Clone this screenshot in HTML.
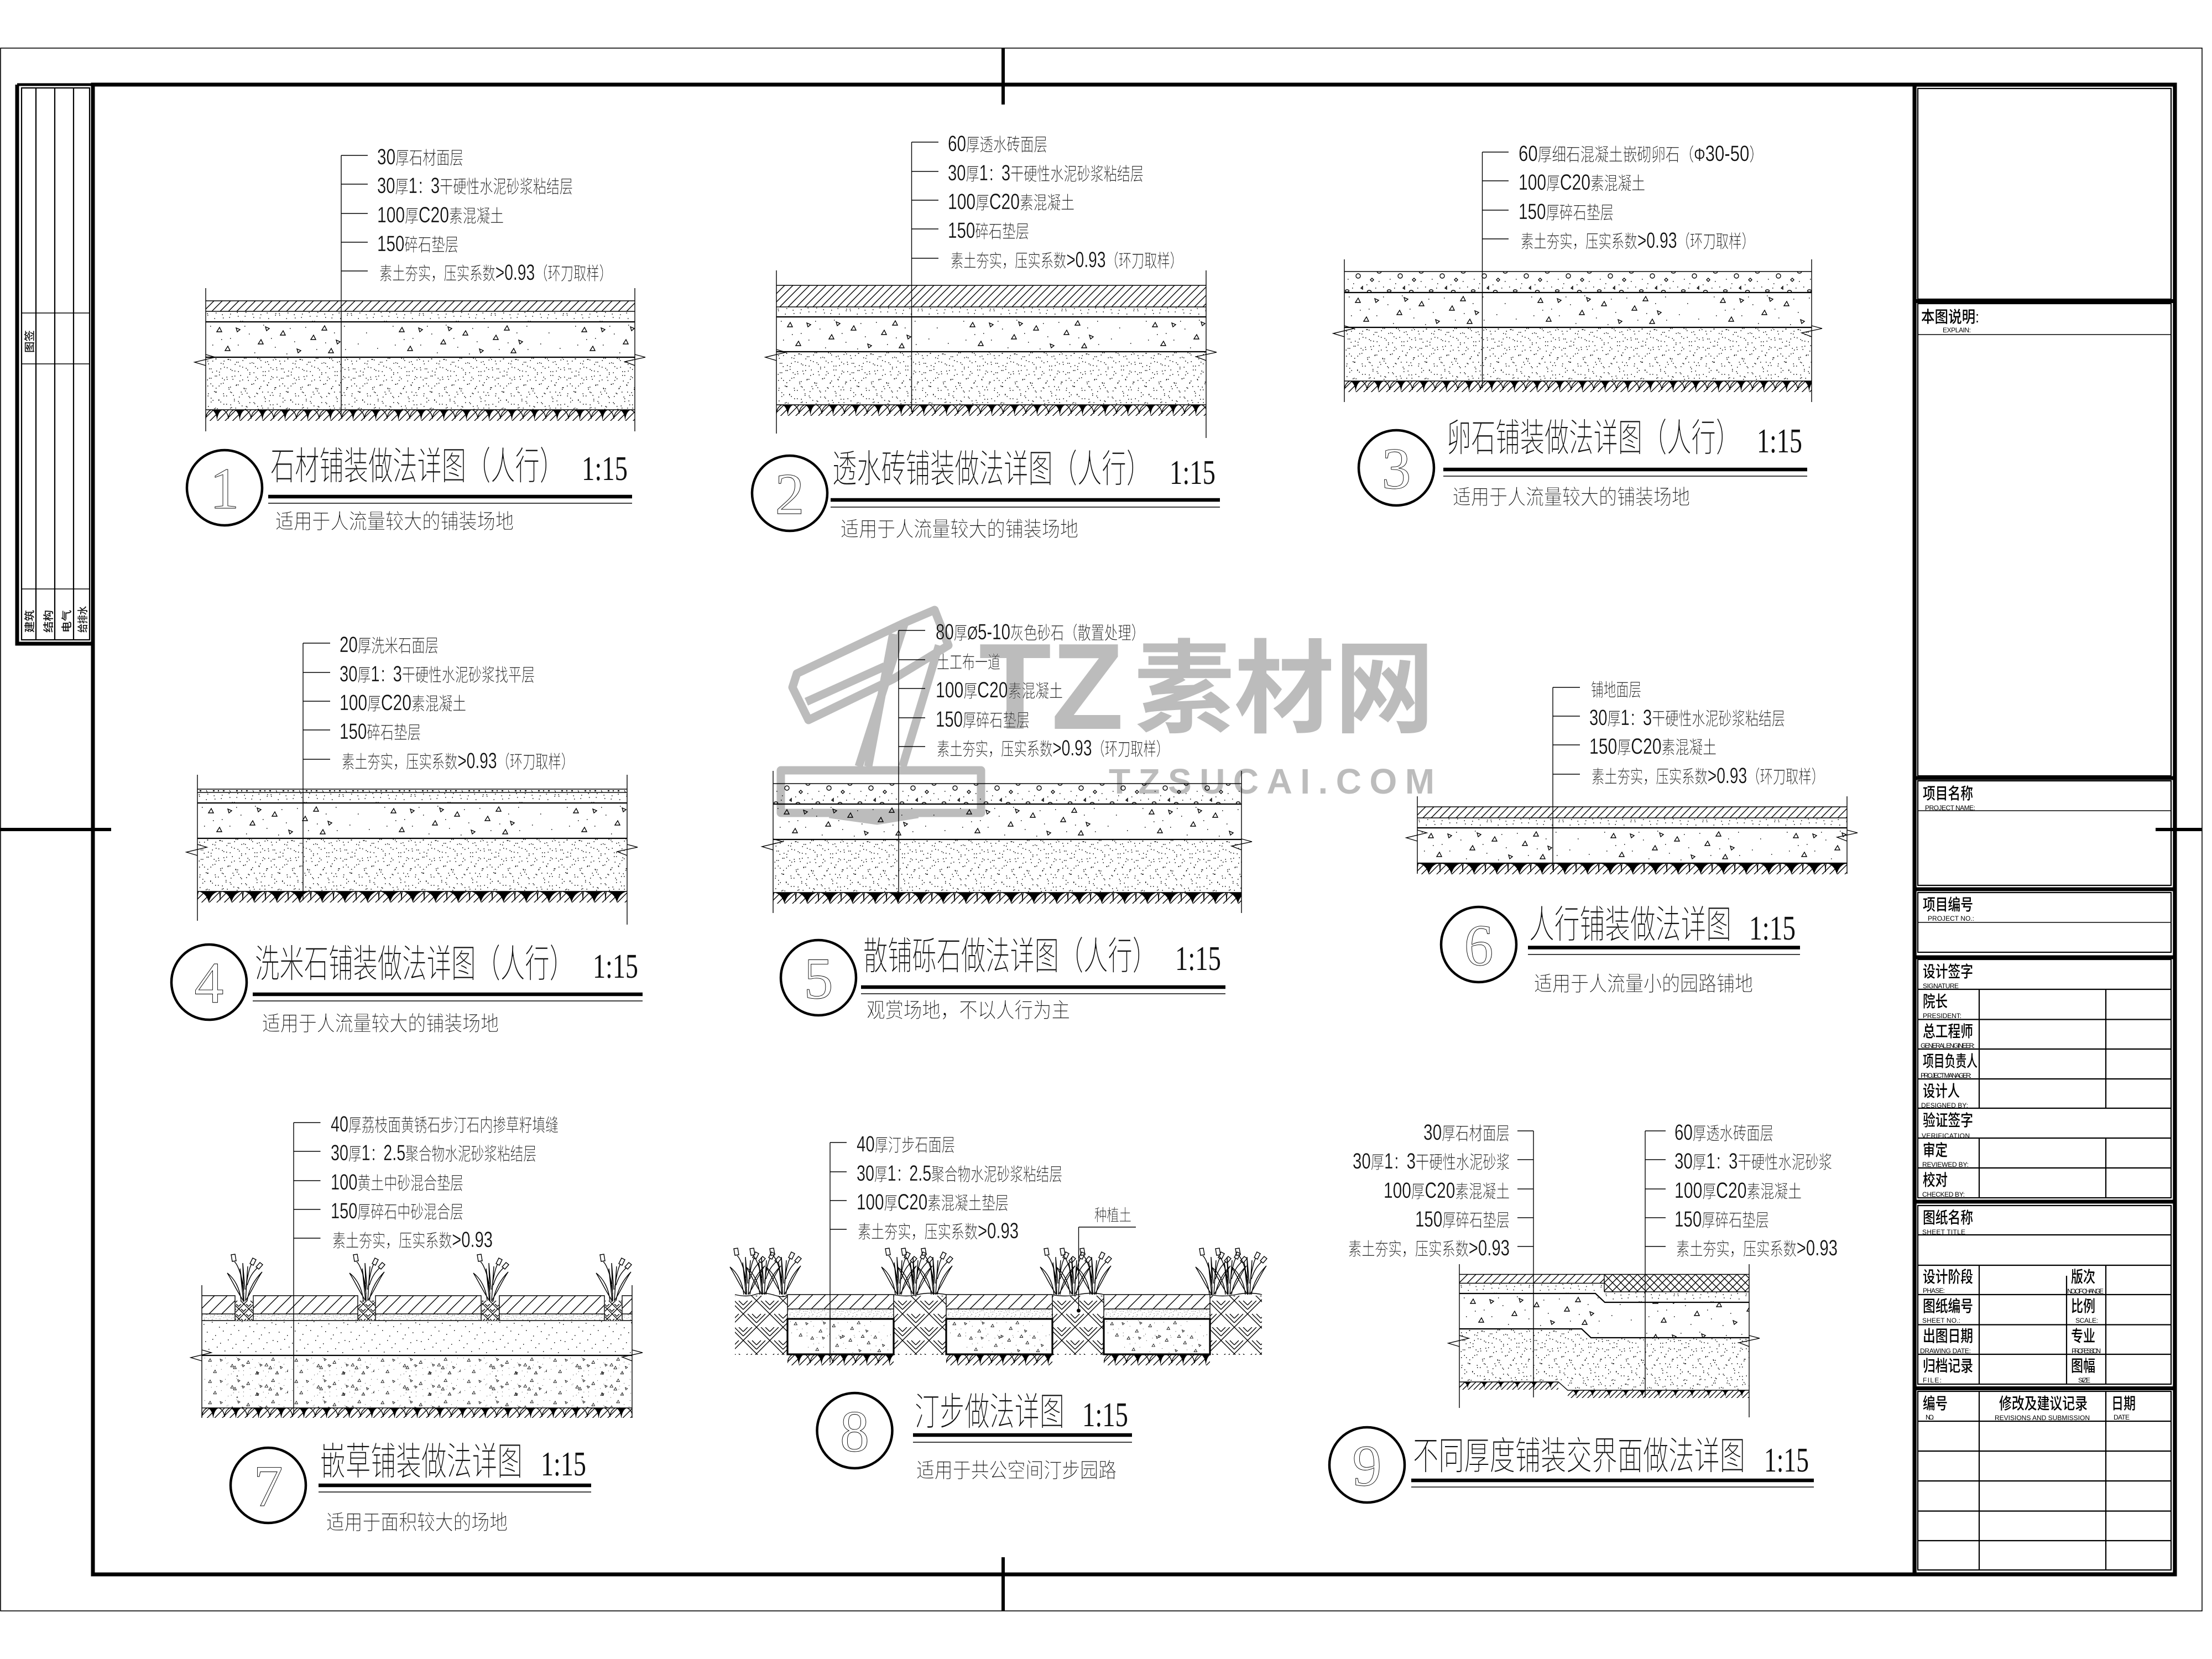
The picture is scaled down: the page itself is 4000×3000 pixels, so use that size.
<!DOCTYPE html>
<html><head><meta charset="utf-8"><style>
html,body{margin:0;padding:0;background:#fff}
svg{display:block}
text{font-family:"Liberation Sans","Noto Sans CJK SC",sans-serif;fill:#111;font-weight:300}
.l{font-size:33px;stroke:#fff;stroke-width:.35px}
.g{font-family:"Liberation Sans Narrow","Liberation Sans",sans-serif;font-size:40px;font-weight:400}
.t{font-size:70px;font-weight:200;stroke:#fff;stroke-width:.9px}
.s{font-size:38px;font-weight:200;stroke:#fff;stroke-width:.55px}
.r{font-family:"Liberation Serif",serif;font-size:62px;font-weight:400}
.n{font-family:"Liberation Serif",serif;font-size:106px;fill:none;stroke:#000;stroke-width:.9;text-anchor:middle}
.c{font-size:29px;font-weight:500;fill:#000}
.e{font-size:12px;font-weight:400;fill:#000}
.w{fill:#bcbcbc;font-weight:700}
.tn{fill:none;stroke:#000;stroke-width:1.4}
.md{fill:none;stroke:#000;stroke-width:2.2}
.th{fill:none;stroke:#000;stroke-width:3.2}
.ci{fill:none;stroke:#000;stroke-width:4.5}
</style></head><body>
<svg xmlns="http://www.w3.org/2000/svg" width="4000" height="3000" viewBox="0 0 4000 3000">
<defs>
<path id="d" fill="none" stroke="#000" stroke-width="1.5" d="M3 7h1.5M18 3h1.5M31 12h1.5M44 5h1.5M58 9h1.5M72 2h1.5M86 11h1.5M99 6h1.5M113 13h1.5M126 4h1.5M9 21h1.5M24 27h1.5M38 19h1.5M52 25h1.5M66 18h1.5M79 28h1.5M93 20h1.5M107 26h1.5M121 22h1.5M6 38h1.5M19 34h1.5M33 41h1.5M47 35h1.5M61 43h1.5M75 36h1.5M89 42h1.5M103 33h1.5M117 40h1.5M128 36h1.5M12 52h1.5M27 48h1.5M41 55h1.5M55 50h1.5M69 57h1.5M83 49h1.5M97 56h1.5M111 51h1.5M124 58h1.5M4 66h1.5M17 63h1.5M32 70h1.5M46 64h1.5M60 72h1.5M74 65h1.5M88 71h1.5M102 63h1.5M116 69h1.5M9 81h1.5M23 78h1.5M37 85h1.5M51 79h1.5M65 88h1.5M79 82h1.5M93 89h1.5M107 80h1.5M121 86h1.5M15 93h1.5M44 92h1.5M71 94h1.5M112 92h1.5"/>
<pattern id="h" width="15" height="15" patternUnits="userSpaceOnUse"><path d="M-2 17L17 -2M-2 2L2 -2M13 17L17 13" class="tn" stroke-width="1.2"/></pattern>
<pattern id="h2" width="23" height="23" patternUnits="userSpaceOnUse"><path d="M-2 25L25 -2M-2 2L2 -2M21 25L25 21" class="tn"/></pattern>
<pattern id="x" width="15" height="15" patternUnits="userSpaceOnUse"><path d="M-2 17L17 -2M-2 -2L17 17M-2 2L2 -2M13 17L17 13M13 -2L17 2M-2 13L2 17" class="tn" stroke-width="1.1"/></pattern>
<pattern id="s" width="130" height="38" patternUnits="userSpaceOnUse"><use href="#d"/><use href="#d" transform="translate(130,0) scale(-1,1)"/></pattern>
<pattern id="g" width="130" height="96" patternUnits="userSpaceOnUse"><use href="#d"/><use href="#d" transform="translate(37,0) scale(-1,1)"/><use href="#d" transform="translate(167,0) scale(-1,1)"/><use href="#d" transform="translate(0,59) scale(1,-1)"/><use href="#d" transform="translate(0,155) scale(1,-1)"/></pattern>
<pattern id="s2" width="130" height="96" patternUnits="userSpaceOnUse"><use href="#d"/></pattern>
<pattern id="ds" width="65" height="48" patternUnits="userSpaceOnUse"><g transform="scale(.5)"><use href="#d"/><use href="#d" transform="translate(130,0) scale(-1,1)"/><use href="#d" transform="translate(0,96) scale(1,-1)"/></g></pattern>
<g id="tr"><path fill="none" stroke="#000" stroke-width="1.4" d="M20 18l5-8 4 8zM62 14l-7-3 2 7zM95 40l5-8 4 8zM135 24l5-8 4 8zM172 52l-7-3 2 7zM210 15l5-8 4 8zM243 36l-7-3 2 7zM35 52l5-8 4 8zM115 12l-7-3 2 7zM190 32l5-8 4 8zM222 56l5-8 4 8z"/><path fill="none" stroke="#000" stroke-width="1.4" d="M8 8h1.5M44 30h1.5M78 22h1.5M88 56h1.5M125 46h1.5M152 12h1.5M160 36h1.5M200 50h1.5M232 20h1.5M252 50h1.5M12 42h1.5M58 42h1.5M104 6h1.5M146 58h1.5M180 10h1.5M70 8h1.5M28 32h1.5M118 30h1.5M216 38h1.5M250 8h1.5M290 20h1.5M310 48h1.5M275 40h1.5"/></g>
<pattern id="c" width="330" height="64" patternUnits="userSpaceOnUse"><use href="#tr"/></pattern>
<pattern id="c2" width="156" height="38.4" patternUnits="userSpaceOnUse"><g transform="scale(.6)"><use href="#tr"/></g><g transform="translate(40,10) scale(.6)"><use href="#tr"/></g></pattern>
<pattern id="c3" width="192" height="64" patternUnits="userSpaceOnUse"><g transform="scale(.6)"><use href="#tr"/></g><g transform="translate(30,26) scale(.6)"><use href="#tr"/></g></pattern>
<pattern id="p" width="76" height="37" patternUnits="userSpaceOnUse"><circle cx="25" cy="8" r="4" class="tn"/><ellipse cx="63" cy="1" rx="3.5" ry="2" class="tn"/><ellipse cx="5" cy="35" rx="3.5" ry="2" class="tn"/><ellipse cx="45" cy="36" rx="3.5" ry="2" class="tn"/><path d="M50 12l3 3-3 3-3-3zM30 30l3-3v5zM6 14h1.5M16 22h1.5M40 24h1.5M62 18h1.5M70 28h1.5M14 30h1.5M56 30h1.5" class="tn"/></pattern>
<pattern id="ri" width="42" height="7" patternUnits="userSpaceOnUse"><path d="M4 3h3M16 3h1M17 5h1M28 3h3M37 3h2" class="md"/></pattern>
<pattern id="so" width="41" height="21" patternUnits="userSpaceOnUse"><path class="tn" d="M-7 21L14 0M6.7 21L27.7 0M20.3 21L41.3 0M34 21L55 0M-20.7 21L0.3 0"/><path d="M10 0Q19 3 20.5 20Q22 3 31 0Z" fill="#000"/><path class="tn" d="M31 0Q40 4 41 16M10 0Q1 4 0 16"/></pattern>
<pattern id="so2" width="41" height="21" patternUnits="userSpaceOnUse"><path class="tn" d="M-7 21L14 0M6.7 21L27.7 0M20.3 21L41.3 0M34 21L55 0M-20.7 21L0.3 0"/><path d="M2 0H39Q25 3 20.5 20Q16 3 2 0Z" fill="#000"/><path class="tn" d="M39 0Q41 3 41 16M2 0Q0 3 0 16"/></pattern>
<pattern id="so3" width="30" height="15" patternUnits="userSpaceOnUse"><path class="tn" d="M-5 15L10 0M5 15L20 0M15 15L30 0M25 15L40 0"/><path d="M7 0Q14 2 15 12Q16 2 23 0Z" fill="#000"/></pattern>
<pattern id="wv" width="48" height="48" patternUnits="userSpaceOnUse"><path class="tn" stroke-width="1.2" d="M0 8L8 0M0 16L16 0M0 24L24 0M24 32L32 24M24 40L40 24M24 48L48 24M24 0L48 24M32 0L48 16M40 0L48 8M0 24L24 48M8 24L24 40M16 24L24 32"/></pattern>
<pattern id="wv2" width="18" height="18" patternUnits="userSpaceOnUse"><path class="tn" stroke-width="1.1" d="M0 4L4 0M0 9L9 0M9 13L13 9M9 18L18 9M9 0L18 9M13 0L18 5M0 9L9 18M4 9L9 14"/></pattern>
<g id="bl" class="tn"><path class="tn" d="M0 -5L17 0L-20 9L0 15"/></g>
<g id="br"><path class="tn" d="M0 -5L19 0L-18 8L0 15"/></g>
<g id="pl"><path class="tn" d="M-6 0C-8 -22 -18 -40 -31 -50C-21 -34 -14 -18 -2 0M5 0C8 -22 20 -40 32 -52C22 -38 14 -18 2 0M-2 0L-8 -58M-8 -58L-1 -12M-1 0L-3 -68L1 -20M2 0L6 -62L3 -20M-3 -30C-6 -50 -14 -68 -18 -70M3 -25C6 -48 10 -62 13 -66M5 -28C10 -46 18 -54 24 -60"/><path class="tn" d="M-22 -71l7 -1 -2 -12 -7 1zM10 -67l6 3 5 -10 -6 -3zM21 -61l5 4 7 -8 -5 -4z"/></g>
</defs>
<rect width="4000" height="3000" fill="#fff"/>

<!-- watermark -->
<g fill="none" stroke="#bcbcbc" stroke-width="15" stroke-linejoin="round">
<polygon points="1433,1243 1462,1302 1615,1228 1715,1167 1690,1103 1636,1126 1441,1218"/>
<path d="M1458 1269L1600 1205"/>
<path d="M1636 1126L1553 1386M1698 1167L1632 1386M1615 1146L1570 1386"/>
<polygon points="1412,1393 1774,1393 1774,1470 1412,1470"/>
<path d="M1500 1472L1586 1484L1660 1472"/>
</g>
<text class="w" x="1770" y="1318" font-size="222" textLength="262" lengthAdjust="spacingAndGlyphs" style="font-size:222px">TZ</text>
<text class="w" x="2051" y="1310" textLength="543" lengthAdjust="spacingAndGlyphs" style="font-size:184px">素材网</text>
<text class="w" x="2005" y="1435" textLength="589" lengthAdjust="spacing" style="font-size:64px">TZSUCAI.COM</text>

<!-- frames -->
<rect x="1" y="87" width="3981" height="2826" fill="none" stroke="#000" stroke-width="1.6"/>
<rect x="168" y="153" width="3765" height="2694" fill="none" stroke="#000" stroke-width="7"/>
<path d="M1814 87V189M1814 2816V2913M0 1500H201M3898 1500H3982" fill="none" stroke="#000" stroke-width="6"/>
<path d="M31 153V1164H168" fill="none" stroke="#000" stroke-width="7"/><path d="M31 153H168" fill="none" stroke="#000" stroke-width="5"/>
<rect x="39" y="159" width="123" height="998" class="md"/>
<path d="M65 159V1157M99 159V1157M133 159V1157" class="md"/><path d="M39 566H162M39 658H162M39 1065H162" class="tn"/>
<g style="font-weight:500">
<text transform="translate(60,638) rotate(-90)" textLength="41" lengthAdjust="spacingAndGlyphs" style="font-size:19px;font-weight:500">图签</text>
<text transform="translate(60,1144) rotate(-90)" textLength="41" lengthAdjust="spacingAndGlyphs" style="font-size:19px;font-weight:500">建筑</text>
<text transform="translate(94,1144) rotate(-90)" textLength="41" lengthAdjust="spacingAndGlyphs" style="font-size:19px;font-weight:500">结构</text>
<text transform="translate(127,1144) rotate(-90)" textLength="41" lengthAdjust="spacingAndGlyphs" style="font-size:19px;font-weight:500">电气</text>
<text transform="translate(156,1144) rotate(-90)" textLength="48" lengthAdjust="spacingAndGlyphs" style="font-size:19px;font-weight:500">给排水</text>
</g>

<!-- title block -->
<path d="M3462 153V2847" fill="none" stroke="#000" stroke-width="7"/>
<rect x="3465" y="156" width="465" height="2688" fill="none" stroke="#000" stroke-width="1.4"/>
<path d="M3465 544.5H3930M3465 1407H3930M3465 1608H3930M3465 1731H3930M3465 2173H3930M3465 2510.5H3930" stroke="#000" stroke-width="7" fill="none"/>
<g class="md">
<rect x="3468" y="160" width="458" height="381"/>
<rect x="3468" y="549" width="458" height="854"/>
<rect x="3468" y="1412" width="458" height="189"/>
<rect x="3468" y="1614" width="458" height="108"/>
<rect x="3468" y="1735" width="458" height="431"/>
<rect x="3468" y="2180" width="458" height="323"/>
<rect x="3468" y="2516" width="458" height="323"/>
</g>
<path class="tn" d="M3468 605H3926M3468 1466H3926M3468 1668H3926"/>
<path class="md" stroke-width="1.8" d="M3468 1789H3926M3468 1843.5H3926M3468 1897H3926M3468 1951H3926M3468 2004H3926M3468 2058H3926M3468 2112H3926M3579 1789V2004M3808 1789V2004M3579 2058V2166M3808 2058V2166M3468 2233H3926M3468 2288H3926M3468 2341H3926M3468 2395.5H3926M3468 2449H3926M3579 2288V2503M3808 2288V2503M3737 2307V2503M3468 2570H3926M3468 2624H3926M3468 2678H3926M3468 2732.5H3926M3468 2786H3926M3579 2516V2839M3808 2516V2839"/>

<text class="c" x="3474" y="583" textLength="105" lengthAdjust="spacingAndGlyphs">本图说明:</text>
<text class="e" x="3513" y="601" textLength="51" lengthAdjust="spacing">EXPLAIN:</text>
<text class="c" x="3477" y="1445" textLength="91" lengthAdjust="spacingAndGlyphs">项目名称</text>
<text class="e" x="3481" y="1465" textLength="91" lengthAdjust="spacing">PROJECT NAME:</text>
<text class="c" x="3477" y="1646" textLength="91" lengthAdjust="spacingAndGlyphs">项目编号</text>
<text class="e" x="3486" y="1665" textLength="84" lengthAdjust="spacing">PROJECT NO.:</text>

<text class="c" x="3477" y="1767" textLength="91" lengthAdjust="spacingAndGlyphs">设计签字</text>
<text class="e" x="3477" y="1787" textLength="65" lengthAdjust="spacing">SIGNATURE</text>
<text class="c" x="3477" y="1821" textLength="45" lengthAdjust="spacingAndGlyphs">院长</text>
<text class="e" x="3477" y="1841" textLength="70" lengthAdjust="spacing">PRESIDENT:</text>
<text class="c" x="3477" y="1875" textLength="91" lengthAdjust="spacingAndGlyphs">总工程师</text>
<text class="e" x="3473" y="1895" textLength="98" lengthAdjust="spacing">GENERAL ENGINEER:</text>
<text class="c" x="3477" y="1929" textLength="99" lengthAdjust="spacingAndGlyphs">项目负责人</text>
<text class="e" x="3473" y="1949" textLength="92" lengthAdjust="spacing">PROJECT MANAGER:</text>
<text class="c" x="3477" y="1983" textLength="67" lengthAdjust="spacingAndGlyphs">设计人</text>
<text class="e" x="3474" y="2003" textLength="85" lengthAdjust="spacing">DESIGNED BY:</text>
<text class="c" x="3477" y="2036" textLength="91" lengthAdjust="spacingAndGlyphs">验证签字</text>
<text class="e" x="3475" y="2058" textLength="87" lengthAdjust="spacing">VERIFICATION</text>
<text class="c" x="3477" y="2090" textLength="45" lengthAdjust="spacingAndGlyphs">审定</text>
<text class="e" x="3476" y="2110" textLength="84" lengthAdjust="spacing">REVIEWED BY:</text>
<text class="c" x="3477" y="2144" textLength="45" lengthAdjust="spacingAndGlyphs">校对</text>
<text class="e" x="3476" y="2164" textLength="77" lengthAdjust="spacing">CHECKED BY:</text>

<text class="c" x="3477" y="2212" textLength="91" lengthAdjust="spacingAndGlyphs">图纸名称</text>
<text class="e" x="3476" y="2232" textLength="78" lengthAdjust="spacing">SHEET TITLE</text>
<text class="c" x="3477" y="2319" textLength="91" lengthAdjust="spacingAndGlyphs">设计阶段</text>
<text class="e" x="3477" y="2338" textLength="40" lengthAdjust="spacing">PHASE:</text>
<text class="c" x="3477" y="2372" textLength="91" lengthAdjust="spacingAndGlyphs">图纸编号</text>
<text class="e" x="3476" y="2392" textLength="69" lengthAdjust="spacing">SHEET NO.:</text>
<text class="c" x="3477" y="2426" textLength="91" lengthAdjust="spacingAndGlyphs">出图日期</text>
<text class="e" x="3472" y="2447" textLength="92" lengthAdjust="spacing">DRAWING DATE:</text>
<text class="c" x="3477" y="2480" textLength="91" lengthAdjust="spacingAndGlyphs">归档记录</text>
<text class="e" x="3477" y="2500" textLength="34" lengthAdjust="spacing">FILE:</text>
<text class="c" x="3745" y="2319" textLength="44" lengthAdjust="spacingAndGlyphs">版次</text>
<text class="e" x="3738" y="2339" textLength="66" lengthAdjust="spacing">NO.OF CHANGE</text>
<text class="c" x="3745" y="2372" textLength="44" lengthAdjust="spacingAndGlyphs">比例</text>
<text class="e" x="3753" y="2392" textLength="41" lengthAdjust="spacing">SCALE:</text>
<text class="c" x="3745" y="2426" textLength="44" lengthAdjust="spacingAndGlyphs">专业</text>
<text class="e" x="3746" y="2447" textLength="53" lengthAdjust="spacing">PROFESSION</text>
<text class="c" x="3745" y="2480" textLength="44" lengthAdjust="spacingAndGlyphs">图幅</text>
<text class="e" x="3758" y="2500" textLength="22" lengthAdjust="spacing">SIZE</text>
<text class="c" x="3477" y="2548" textLength="45" lengthAdjust="spacingAndGlyphs">编号</text>
<text class="e" x="3482" y="2567" textLength="15" lengthAdjust="spacing">NO.</text>
<text class="c" x="3615" y="2548" textLength="160" lengthAdjust="spacingAndGlyphs">修改及建议记录</text>
<text class="e" x="3607" y="2568" textLength="172" lengthAdjust="spacing">REVISIONS AND SUBMISSION</text>
<text class="c" x="3818" y="2548" textLength="44" lengthAdjust="spacingAndGlyphs">日期</text>
<text class="e" x="3822" y="2567" textLength="29" lengthAdjust="spacing">DATE</text>

<!-- DETAIL 1 -->
<g>
<rect transform="translate(372,544)" width="776" height="19" fill="url(#h)"/>
<rect transform="translate(372,563)" width="776" height="19" fill="url(#s)"/>
<rect transform="translate(372,582)" width="776" height="64" fill="url(#c)"/>
<rect transform="translate(372,646)" width="776" height="95" fill="url(#g)"/>
<rect transform="translate(372,741)" width="776" height="20" fill="url(#so)"/>
<path class="tn" d="M372 521V780M1148 521V780M372 544H1148M372 563H1148M372 741H1148M617 281V753M617 281H665M617 333H665M617 386H665M617 438H665M617 490H665"/>
<path class="md" d="M372 582H1148M372 646H1148"/>
<use href="#bl" x="372" y="646"/><use href="#br" x="1148" y="646"/>
<text class="l" x="682" y="297" textLength="156" lengthAdjust="spacingAndGlyphs"><tspan class="g">30</tspan>厚石材面层</text>
<text class="l" x="682" y="349" textLength="354" lengthAdjust="spacingAndGlyphs"><tspan class="g">30</tspan>厚<tspan class="g">1</tspan>：<tspan class="g">3</tspan>干硬性水泥砂浆粘结层</text>
<text class="l" x="682" y="402" textLength="229" lengthAdjust="spacingAndGlyphs"><tspan class="g">100</tspan>厚<tspan class="g">C20</tspan>素混凝土</text>
<text class="l" x="682" y="454" textLength="147" lengthAdjust="spacingAndGlyphs"><tspan class="g">150</tspan>碎石垫层</text>
<text class="l" x="686" y="506" textLength="421" lengthAdjust="spacingAndGlyphs">素土夯实，压实系数<tspan class="g">&gt;0.93</tspan>（环刀取样）</text>
<circle cx="406" cy="882" r="68" class="ci"/><text class="n" x="406" y="919">1</text>
<text class="t" x="489" y="867" textLength="531" lengthAdjust="spacingAndGlyphs">石材铺装做法详图（人行）</text>
<text class="r" x="1052" y="868" textLength="83" lengthAdjust="spacingAndGlyphs">1:15</text>
<path d="M485 898H1143" stroke="#000" stroke-width="6.5"/><path class="tn" d="M485 910H1143"/>
<text class="s" x="498" y="956" textLength="431" lengthAdjust="spacingAndGlyphs">适用于人流量较大的铺装场地</text>
</g>

<!-- DETAIL 2 -->
<g>
<rect transform="translate(1404,516)" width="777" height="39" fill="url(#h)"/>
<rect transform="translate(1404,555)" width="777" height="18" fill="url(#s)"/>
<rect transform="translate(1404,573)" width="777" height="63" fill="url(#c)"/>
<rect transform="translate(1404,636)" width="777" height="96" fill="url(#g)"/>
<rect transform="translate(1404,732)" width="777" height="20" fill="url(#so)"/>
<path class="tn" d="M1404 489V784M2181 489V792M1404 516H2181M1404 555H2181M1404 732H2181M1648.5 257V745M1648.5 257H1697M1648.5 310H1697M1648.5 362H1697M1648.5 414H1697M1648.5 467H1697"/>
<path class="md" d="M1404 573H2181M1404 636H2181"/>
<use href="#bl" x="1404" y="637"/><use href="#br" x="2181" y="637"/>
<text class="l" x="1714" y="273" textLength="180" lengthAdjust="spacingAndGlyphs"><tspan class="g">60</tspan>厚透水砖面层</text>
<text class="l" x="1714" y="326" textLength="354" lengthAdjust="spacingAndGlyphs"><tspan class="g">30</tspan>厚<tspan class="g">1</tspan>：<tspan class="g">3</tspan>干硬性水泥砂浆粘结层</text>
<text class="l" x="1714" y="378" textLength="229" lengthAdjust="spacingAndGlyphs"><tspan class="g">100</tspan>厚<tspan class="g">C20</tspan>素混凝土</text>
<text class="l" x="1714" y="430" textLength="147" lengthAdjust="spacingAndGlyphs"><tspan class="g">150</tspan>碎石垫层</text>
<text class="l" x="1719" y="483" textLength="420" lengthAdjust="spacingAndGlyphs">素土夯实，压实系数<tspan class="g">&gt;0.93</tspan>（环刀取样）</text>
<circle cx="1428" cy="892" r="68" class="ci"/><text class="n" x="1428" y="929">2</text>
<text class="t" x="1505" y="872" textLength="576" lengthAdjust="spacingAndGlyphs">透水砖铺装做法详图（人行）</text>
<text class="r" x="2115" y="875" textLength="83" lengthAdjust="spacingAndGlyphs">1:15</text>
<path d="M1502 904H2206" stroke="#000" stroke-width="6.5"/><path class="tn" d="M1502 917H2206"/>
<text class="s" x="1520" y="970" textLength="430" lengthAdjust="spacingAndGlyphs">适用于人流量较大的铺装场地</text>
</g>

<!-- DETAIL 3 -->
<g>
<rect transform="translate(2431,491)" width="845" height="38" fill="url(#p)"/>
<rect transform="translate(2431,529)" width="845" height="63" fill="url(#c)"/>
<rect transform="translate(2431,592)" width="845" height="97" fill="url(#g)"/>
<rect transform="translate(2431,689)" width="845" height="20" fill="url(#so)"/>
<path class="tn" d="M2431 469V727M3276 469V727M2431 491H3276M2431 689H3276M2680.5 275V702M2680.5 275H2728M2680.5 327H2728M2680.5 380H2728M2680.5 432H2728"/>
<path class="md" d="M2431 529H3276M2431 592H3276"/>
<use href="#bl" x="2431" y="594"/><use href="#br" x="3276" y="594"/>
<text class="l" x="2746" y="291" textLength="443" lengthAdjust="spacingAndGlyphs"><tspan class="g">60</tspan>厚细石混凝土嵌砌卵石（Φ<tspan class="g">30-50</tspan>）</text>
<text class="l" x="2746" y="343" textLength="229" lengthAdjust="spacingAndGlyphs"><tspan class="g">100</tspan>厚<tspan class="g">C20</tspan>素混凝土</text>
<text class="l" x="2746" y="396" textLength="172" lengthAdjust="spacingAndGlyphs"><tspan class="g">150</tspan>厚碎石垫层</text>
<text class="l" x="2750" y="448" textLength="423" lengthAdjust="spacingAndGlyphs">素土夯实，压实系数<tspan class="g">&gt;0.93</tspan>（环刀取样）</text>
<circle cx="2525" cy="846" r="68" class="ci"/><text class="n" x="2525" y="883">3</text>
<text class="t" x="2616" y="816" textLength="531" lengthAdjust="spacingAndGlyphs">卵石铺装做法详图（人行）</text>
<text class="r" x="3177" y="818" textLength="82" lengthAdjust="spacingAndGlyphs">1:15</text>
<path d="M2610 849H3268" stroke="#000" stroke-width="6.5"/><path class="tn" d="M2610 861H3268"/>
<text class="s" x="2627" y="912" textLength="429" lengthAdjust="spacingAndGlyphs">适用于人流量较大的铺装场地</text>
</g>

<!-- DETAIL 4 -->
<g>
<rect transform="translate(357,1427)" width="777" height="6" fill="url(#ri)"/>
<rect transform="translate(357,1433)" width="777" height="19" fill="url(#s)"/>
<rect transform="translate(357,1452)" width="777" height="64" fill="url(#c)"/>
<rect transform="translate(357,1516)" width="777" height="96" fill="url(#g)"/>
<rect transform="translate(357,1612)" width="777" height="20" fill="url(#so2)"/>
<path class="tn" d="M357 1401V1665M1134 1401V1672M357 1427H1134M357 1433H1134M357 1612H1134M548 1163V1628M548 1163H597M548 1216H597M548 1268H597M548 1320H597M548 1373H597"/>
<path class="md" d="M357 1452H1134M357 1516H1134"/>
<use href="#bl" x="357" y="1532"/><use href="#br" x="1134" y="1532"/>
<text class="l" x="614" y="1179" textLength="179" lengthAdjust="spacingAndGlyphs"><tspan class="g">20</tspan>厚洗米石面层</text>
<text class="l" x="614" y="1232" textLength="353" lengthAdjust="spacingAndGlyphs"><tspan class="g">30</tspan>厚<tspan class="g">1</tspan>：<tspan class="g">3</tspan>干硬性水泥砂浆找平层</text>
<text class="l" x="614" y="1284" textLength="229" lengthAdjust="spacingAndGlyphs"><tspan class="g">100</tspan>厚<tspan class="g">C20</tspan>素混凝土</text>
<text class="l" x="614" y="1336" textLength="147" lengthAdjust="spacingAndGlyphs"><tspan class="g">150</tspan>碎石垫层</text>
<text class="l" x="618" y="1389" textLength="420" lengthAdjust="spacingAndGlyphs">素土夯实，压实系数<tspan class="g">&gt;0.93</tspan>（环刀取样）</text>
<circle cx="378" cy="1776" r="68" class="ci"/><text class="n" x="378" y="1813">4</text>
<text class="t" x="461" y="1767" textLength="577" lengthAdjust="spacingAndGlyphs">洗米石铺装做法详图（人行）</text>
<text class="r" x="1072" y="1768" textLength="82" lengthAdjust="spacingAndGlyphs">1:15</text>
<path d="M457 1798H1162" stroke="#000" stroke-width="6.5"/><path class="tn" d="M457 1810H1162"/>
<text class="s" x="474" y="1864" textLength="428" lengthAdjust="spacingAndGlyphs">适用于人流量较大的铺装场地</text>
</g>

<!-- DETAIL 5 -->
<g>
<rect transform="translate(1398,1417)" width="847" height="37" fill="url(#p)"/>
<rect transform="translate(1398,1454)" width="847" height="64" fill="url(#c)"/>
<rect transform="translate(1398,1518)" width="847" height="96" fill="url(#g)"/>
<rect transform="translate(1398,1614)" width="847" height="20" fill="url(#so2)"/>
<path class="tn" d="M1398 1394V1651M2245 1394V1651M1398 1417H2245M1398 1614H2245M1625 1140V1631M1625 1140H1673M1625 1193H1673M1625 1245H1673M1625 1298H1673M1625 1350H1673"/>
<path class="md" d="M1398 1454H2245M1398 1518H2245"/>
<use href="#bl" x="1398" y="1522"/><use href="#br" x="2245" y="1522"/>
<text class="l" x="1692" y="1156" textLength="378" lengthAdjust="spacingAndGlyphs"><tspan class="g">80</tspan>厚Ø<tspan class="g">5-10</tspan>灰色砂石（散置处理）</text>
<text class="l" x="1694" y="1209" textLength="115" lengthAdjust="spacingAndGlyphs">土工布一道</text>
<text class="l" x="1692" y="1261" textLength="230" lengthAdjust="spacingAndGlyphs"><tspan class="g">100</tspan>厚<tspan class="g">C20</tspan>素混凝土</text>
<text class="l" x="1692" y="1314" textLength="170" lengthAdjust="spacingAndGlyphs"><tspan class="g">150</tspan>厚碎石垫层</text>
<text class="l" x="1694" y="1366" textLength="420" lengthAdjust="spacingAndGlyphs">素土夯实，压实系数<tspan class="g">&gt;0.93</tspan>（环刀取样）</text>
<circle cx="1480" cy="1768" r="68" class="ci"/><text class="n" x="1480" y="1805">5</text>
<text class="t" x="1561" y="1753" textLength="531" lengthAdjust="spacingAndGlyphs">散铺砾石做法详图（人行）</text>
<text class="r" x="2125" y="1754" textLength="83" lengthAdjust="spacingAndGlyphs">1:15</text>
<path d="M1557 1785H2216" stroke="#000" stroke-width="6.5"/><path class="tn" d="M1557 1797H2216"/>
<text class="s" x="1567" y="1840" textLength="368" lengthAdjust="spacingAndGlyphs">观赏场地，不以人行为主</text>
</g>

<!-- DETAIL 6 -->
<g>
<rect transform="translate(2563,1459)" width="777" height="20" fill="url(#h)"/>
<rect transform="translate(2563,1479)" width="777" height="18" fill="url(#s)"/>
<rect transform="translate(2563,1497)" width="777" height="64" fill="url(#c)"/>
<rect transform="translate(2563,1561)" width="777" height="20" fill="url(#so2)"/>
<path class="tn" d="M2563 1440V1580M3340 1440V1580M2563 1459H3340M2563 1479H3340M2808 1243V1573M2808 1243H2857M2808 1295H2857M2808 1347H2857M2808 1400H2857"/>
<path class="md" d="M2563 1497H3340M2563 1561H3340"/>
<use href="#bl" x="2563" y="1506"/><use href="#br" x="3340" y="1506"/>
<text class="l" x="2877" y="1259" textLength="91" lengthAdjust="spacingAndGlyphs">铺地面层</text>
<text class="l" x="2874" y="1311" textLength="354" lengthAdjust="spacingAndGlyphs"><tspan class="g">30</tspan>厚<tspan class="g">1</tspan>：<tspan class="g">3</tspan>干硬性水泥砂浆粘结层</text>
<text class="l" x="2874" y="1363" textLength="230" lengthAdjust="spacingAndGlyphs"><tspan class="g">150</tspan>厚<tspan class="g">C20</tspan>素混凝土</text>
<text class="l" x="2878" y="1416" textLength="421" lengthAdjust="spacingAndGlyphs">素土夯实，压实系数<tspan class="g">&gt;0.93</tspan>（环刀取样）</text>
<circle cx="2674" cy="1708" r="68" class="ci"/><text class="n" x="2674" y="1745">6</text>
<text class="t" x="2765" y="1696" textLength="366" lengthAdjust="spacingAndGlyphs">人行铺装做法详图</text>
<text class="r" x="3163" y="1699" textLength="84" lengthAdjust="spacingAndGlyphs">1:15</text>
<path d="M2763 1713.5H3255" stroke="#000" stroke-width="6.5"/><path class="tn" d="M2763 1726H3255"/>
<text class="s" x="2774" y="1792" textLength="396" lengthAdjust="spacingAndGlyphs">适用于人流量小的园路铺地</text>
</g>

<!-- DETAIL 7 -->
<g>
<path class="tn" d="M365 2324V2564M1143 2324V2564M365 2388H1143M365 2546H1143M531 2030V2556M531 2030H579.5M531 2082H579.5M531 2135H579.5M531 2187H579.5M531 2239H579.5"/>
<rect transform="translate(365,2343)" width="60" height="33" fill="url(#h2)"/>
<rect transform="translate(458,2343)" width="189" height="33" fill="url(#h2)"/>
<rect transform="translate(679,2343)" width="191" height="33" fill="url(#h2)"/>
<rect transform="translate(903,2343)" width="190" height="33" fill="url(#h2)"/>
<rect transform="translate(1125,2343)" width="18" height="33" fill="url(#h2)"/>
<rect transform="translate(365,2376)" width="778" height="12" fill="url(#ds)"/>
<path class="tn" d="M365 2343H425V2388M458 2388V2343H647V2388M679 2388V2343H870V2388M903 2388V2343H1093V2388M1125 2388V2343H1143M365 2376H1143"/>
<rect x="426" y="2352" width="31" height="36" fill="#fff"/><rect x="648" y="2352" width="30" height="36" fill="#fff"/><rect x="871" y="2352" width="31" height="36" fill="#fff"/><rect x="1094" y="2352" width="30" height="36" fill="#fff"/>
<rect x="426" y="2352" width="31" height="36" fill="url(#wv2)"/><rect x="648" y="2352" width="30" height="36" fill="url(#wv2)"/><rect x="871" y="2352" width="31" height="36" fill="url(#wv2)"/><rect x="1094" y="2352" width="30" height="36" fill="url(#wv2)"/>
<rect transform="translate(365,2388)" width="778" height="63" fill="url(#s2)"/>
<rect transform="translate(365,2451)" width="778" height="95" fill="url(#c2)"/>
<rect transform="translate(365,2546)" width="778" height="18" fill="url(#so)"/>
<path class="md" d="M365 2451H1143"/>
<use href="#bl" x="365" y="2446"/><use href="#br" x="1143" y="2446"/>
<use href="#pl" x="442" y="2352"/><use href="#pl" x="663" y="2352"/><use href="#pl" x="887" y="2352"/><use href="#pl" x="1109" y="2352"/>
<text class="l" x="598" y="2046" textLength="412" lengthAdjust="spacingAndGlyphs"><tspan class="g">40</tspan>厚荔枝面黄锈石步汀石内掺草籽填缝</text>
<text class="l" x="598" y="2098" textLength="372" lengthAdjust="spacingAndGlyphs"><tspan class="g">30</tspan>厚<tspan class="g">1</tspan>：<tspan class="g">2.5</tspan>聚合物水泥砂浆粘结层</text>
<text class="l" x="598" y="2151" textLength="240" lengthAdjust="spacingAndGlyphs"><tspan class="g">100</tspan>黄土中砂混合垫层</text>
<text class="l" x="598" y="2203" textLength="240" lengthAdjust="spacingAndGlyphs"><tspan class="g">150</tspan>厚碎石中砂混合层</text>
<text class="l" x="601" y="2255" textLength="290" lengthAdjust="spacingAndGlyphs">素土夯实，压实系数<tspan class="g">&gt;0.93</tspan></text>
<circle cx="485" cy="2686" r="68" class="ci"/><text class="n" x="485" y="2723">7</text>
<text class="t" x="579" y="2667" textLength="366" lengthAdjust="spacingAndGlyphs">嵌草铺装做法详图</text>
<text class="r" x="978" y="2668" textLength="82" lengthAdjust="spacingAndGlyphs">1:15</text>
<path d="M576 2686H1069" stroke="#000" stroke-width="6.5"/><path class="tn" d="M576 2698H1069"/>
<text class="s" x="590" y="2766" textLength="328" lengthAdjust="spacingAndGlyphs">适用于面积较大的场地</text>
</g>

<!-- DETAIL 8 -->
<g>
<rect x="1329" y="2343" width="95" height="107" fill="url(#wv)"/><rect x="1616" y="2343" width="95" height="107" fill="url(#wv)"/><rect x="1902" y="2343" width="94" height="107" fill="url(#wv)"/><rect x="2188" y="2343" width="94" height="107" fill="url(#wv)"/>
<path class="tn" d="M1329 2341Q1350 2346 1365 2341T1400 2342T1424 2341M1616 2341Q1640 2346 1660 2341T1711 2341M1902 2341Q1925 2346 1950 2341T1996 2341M2188 2341Q2210 2346 2235 2341T2282 2341"/>
<g id="st">
<rect transform="translate(1424,2341)" width="192" height="26" fill="url(#h2)"/>
<rect transform="translate(1424,2367)" width="192" height="18" fill="url(#ds)"/>
<rect transform="translate(1424,2385)" width="192" height="64" fill="url(#c3)"/>
<rect transform="translate(1424,2449)" width="192" height="20" fill="url(#so)"/>
<path class="tn" d="M1424 2341H1616M1424 2367H1616M1424 2341V2385M1616 2341V2385"/>
<rect x="1424" y="2385" width="192" height="64" class="th"/>
</g>
<use href="#st" x="287"/><use href="#st" x="572"/>
<path class="tn" d="M1501 2066V2464M1501 2066H1531M1501 2119H1531M1501 2171H1531M1501 2223H1531M1950.5 2219H2054M1950.5 2219V2370"/>
<circle cx="1950.5" cy="2370" r="3.5" fill="#000"/>
<g id="cl"><use href="#pl" x="1351" y="2341" transform="translate(0,0)"/><use href="#pl" x="1380" y="2341"/><use href="#pl" x="1416" y="2341"/></g>
<use href="#cl" x="274"/><use href="#cl" x="561"/><use href="#cl" x="842"/>
<text class="l" x="1549" y="2082" textLength="178" lengthAdjust="spacingAndGlyphs"><tspan class="g">40</tspan>厚汀步石面层</text>
<text class="l" x="1549" y="2135" textLength="372" lengthAdjust="spacingAndGlyphs"><tspan class="g">30</tspan>厚<tspan class="g">1</tspan>：<tspan class="g">2.5</tspan>聚合物水泥砂浆粘结层</text>
<text class="l" x="1549" y="2187" textLength="275" lengthAdjust="spacingAndGlyphs"><tspan class="g">100</tspan>厚<tspan class="g">C20</tspan>素混凝土垫层</text>
<text class="l" x="1551" y="2239" textLength="291" lengthAdjust="spacingAndGlyphs">素土夯实，压实系数<tspan class="g">&gt;0.93</tspan></text>
<text class="l" x="1979" y="2208" textLength="67" lengthAdjust="spacingAndGlyphs" style="font-size:30px">种植土</text>
<circle cx="1545.5" cy="2587" r="68" class="ci"/><text class="n" x="1545.5" y="2624">8</text>
<text class="t" x="1654" y="2577" textLength="271" lengthAdjust="spacingAndGlyphs">汀步做法详图</text>
<text class="r" x="1957" y="2579" textLength="83" lengthAdjust="spacingAndGlyphs">1:15</text>
<path d="M1651 2595H2047" stroke="#000" stroke-width="6.5"/><path class="tn" d="M1651 2608H2047"/>
<text class="s" x="1657" y="2672" textLength="362" lengthAdjust="spacingAndGlyphs">适用于共公空间汀步园路</text>
</g>

<!-- DETAIL 9 -->
<g>
<rect transform="translate(2639,2304.5)" width="262" height="16" fill="url(#h)"/>
<rect transform="translate(2901,2304.5)" width="262" height="31.5" fill="url(#x)"/>
<rect transform="translate(2639,2320.5)" width="262" height="18" fill="url(#s)"/>
<rect transform="translate(2901,2336)" width="262" height="19" fill="url(#s)"/>
<polygon transform="translate(2639,2339)" points="0,0 246,0 263,16 524,16 524,80 238,80 221,64 0,64" fill="url(#c)"/>
<polygon transform="translate(2639,2403)" points="0,0 221,0 238,16 524,16 524,111 196,111 179,96 0,96" fill="url(#g)"/>
<rect transform="translate(2639,2499)" width="179" height="14" fill="url(#so3)"/>
<rect transform="translate(2835,2514)" width="328" height="14" fill="url(#so3)"/>
<path class="tn" d="M2639 2286V2546M3163 2286V2563M2639 2304.5H3163M2639 2320.5H2901M2901 2304.5V2336M2901 2336H3163M2639 2499H2818L2835 2514H3163M2773 2045V2527M2975 2045V2527M2744 2045H2773M2744 2097H2773M2744 2150H2773M2744 2202H2773M2744 2254H2773M2975 2045H3012M2975 2097H3012M2975 2150H3012M2975 2202H3012M2975 2254H3012"/>
<path class="md" d="M2639 2339H2885L2902 2355H3163M2639 2403H2860L2877 2419H3163"/>
<use href="#bl" x="2639" y="2420"/><use href="#br" x="3163" y="2420"/>
<text class="l" x="2574" y="2061" textLength="156" lengthAdjust="spacingAndGlyphs"><tspan class="g">30</tspan>厚石材面层</text>
<text class="l" x="2446" y="2113" textLength="284" lengthAdjust="spacingAndGlyphs"><tspan class="g">30</tspan>厚<tspan class="g">1</tspan>：<tspan class="g">3</tspan>干硬性水泥砂浆</text>
<text class="l" x="2502" y="2166" textLength="228" lengthAdjust="spacingAndGlyphs"><tspan class="g">100</tspan>厚<tspan class="g">C20</tspan>素混凝土</text>
<text class="l" x="2559" y="2218" textLength="171" lengthAdjust="spacingAndGlyphs"><tspan class="g">150</tspan>厚碎石垫层</text>
<text class="l" x="2438" y="2270" textLength="292" lengthAdjust="spacingAndGlyphs">素土夯实，压实系数<tspan class="g">&gt;0.93</tspan></text>
<text class="l" x="3028" y="2061" textLength="179" lengthAdjust="spacingAndGlyphs"><tspan class="g">60</tspan>厚透水砖面层</text>
<text class="l" x="3028" y="2113" textLength="285" lengthAdjust="spacingAndGlyphs"><tspan class="g">30</tspan>厚<tspan class="g">1</tspan>：<tspan class="g">3</tspan>干硬性水泥砂浆</text>
<text class="l" x="3028" y="2166" textLength="230" lengthAdjust="spacingAndGlyphs"><tspan class="g">100</tspan>厚<tspan class="g">C20</tspan>素混凝土</text>
<text class="l" x="3028" y="2218" textLength="171" lengthAdjust="spacingAndGlyphs"><tspan class="g">150</tspan>厚碎石垫层</text>
<text class="l" x="3031" y="2270" textLength="292" lengthAdjust="spacingAndGlyphs">素土夯实，压实系数<tspan class="g">&gt;0.93</tspan></text>
<circle cx="2472" cy="2649" r="68" class="ci"/><text class="n" x="2472" y="2686">9</text>
<text class="t" x="2555" y="2657" textLength="601" lengthAdjust="spacingAndGlyphs">不同厚度铺装交界面做法详图</text>
<text class="r" x="3190" y="2661" textLength="81" lengthAdjust="spacingAndGlyphs">1:15</text>
<path d="M2552 2677H3280" stroke="#000" stroke-width="6.5"/><path class="tn" d="M2552 2689H3280"/>
</g>
</svg>
</body></html>
